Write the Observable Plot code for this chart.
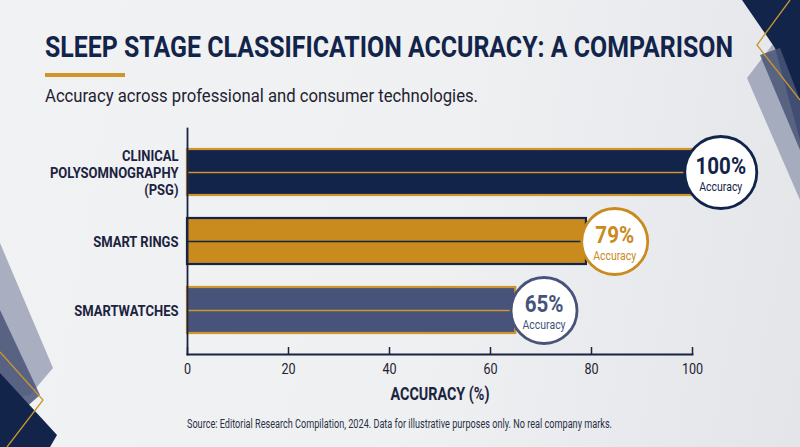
<!DOCTYPE html>
<html>
<head>
<meta charset="utf-8">
<script src="https://cdn.jsdelivr.net/npm/d3@7"></script>
<script src="https://cdn.jsdelivr.net/npm/@observablehq/plot@0.6"></script>
<style>
  html, body { margin: 0; padding: 0; }
  body {
    width: 800px; height: 447px; overflow: hidden; position: relative;
    background: linear-gradient(100deg, #f1f2f4 0%, #eef0f2 55%, #e3e5e9 100%);
    font-family: Roboto, "Noto Sans", sans-serif;
  }
  #deco { position: absolute; left: 0; top: 0; }
  .sq { transform-origin: 0 50%; display: inline-block; }
  #title {
    position: absolute; left: 45px; top: 30px; margin: 0;
    font-size: 29.5px; line-height: 34px; font-weight: 700; color: #13244a; white-space: nowrap;
  }
  #bar { position: absolute; left: 45px; top: 73px; width: 80px; height: 3.5px; background: #d0962a; }
  #subtitle {
    position: absolute; left: 45px; top: 84px; margin: 0;
    font-size: 19px; line-height: 24px; color: #1e2230; white-space: nowrap;
  }
  #chart { position: absolute; left: 0; top: 118px; }
  #source {
    position: absolute; left: 187px; top: 416px; margin: 0;
    font-size: 12px; line-height: 16px; color: #2b3045; white-space: nowrap;
  }
</style>
</head>
<body>
<svg id="deco" width="800" height="447" viewBox="0 0 800 447">
  <polygon points="747,78 776,40 800,110 800,200" fill="#8a93ab" opacity="0.7"/>
  <polygon points="742,0 800,0 800,140 775,48" fill="#13244a"/>
  <polygon points="760,55 780,48 800,100 800,150" fill="#4a5678" opacity="0.85"/>
  <polyline points="790,0 757,45 800,100" fill="none" stroke="#c9962e" stroke-width="1.3"/>
  <polygon points="0,243 53,368 30,395 0,400" fill="#8a93ab" opacity="0.7"/>
  <polygon points="0,310 40,395 0,430" fill="#4a5678" opacity="0.85"/>
  <polygon points="0,373 57,435 50,447 0,447" fill="#13244a"/>
  <polyline points="0,352 43,400 7,447" fill="none" stroke="#c9962e" stroke-width="1.3"/>
</svg>
<h1 id="title"><span class="sq" data-w="688">SLEEP STAGE CLASSIFICATION ACCURACY: A COMPARISON</span></h1>
<div id="bar"></div>
<p id="subtitle"><span class="sq" data-w="433">Accuracy across professional and consumer technologies.</span></p>
<div id="chart"></div>
<p id="source"><span class="sq" data-w="425">Source: Editorial Research Compilation, 2024. Data for illustrative purposes only. No real company marks.</span></p>
<script>
const categories = ["Clinical Polysomnography (PSG)", "Smart Rings", "Smartwatches"];
const tickLabels = ["CLINICAL\nPOLYSOMNOGRAPHY\n(PSG)", "SMART RINGS", "SMARTWATCHES"];
const accuracy = [100, 79, 65];
const barFills = ["#13244a", "#c98a1e", "#47537a"];
const barEdges = ["#d0962a", "#13244a", "#d0962a"];
const xTicks = [0, 20, 40, 60, 80, 100];

const data = categories.map((c, i) => ({
  category: c, label: tickLabels[i], value: accuracy[i], fill: barFills[i], edge: barEdges[i]
}));
const labelOf = new Map(data.map(d => [d.category, d.label]));
const ink = "#1b2340";

const chart = Plot.plot({
  width: 800, height: 291,
  marginTop: 10, marginBottom: 55, marginLeft: 187, marginRight: 108,
  x: { domain: [0, 100] },
  y: { domain: categories, paddingInner: 0.333, paddingOuter: 0.304 },
  r: { type: "identity" },
  style: { background: "transparent", fontFamily: "Roboto, sans-serif", overflow: "visible" },
  marks: [
    Plot.barX(data, { y: "category", x: "value", fill: d => d.fill, stroke: d => d.edge, strokeWidth: 2.2 }),
    Plot.ruleY(data, { y: "category", x1: 0, x2: "value", stroke: d => d.edge, strokeWidth: 1.6 }),
    Plot.ruleX(xTicks, { x: d => d, insetTop: 219, stroke: ink, strokeWidth: 1.5 }),
    Plot.frame({ anchor: "left", stroke: ink, strokeWidth: 1.8 }),
    Plot.frame({ anchor: "bottom", stroke: ink, strokeWidth: 2 }),
    Plot.axisX({ ticks: xTicks, tickSize: 0, tickPadding: 9, fontSize: 15, fill: "#1e2230",
      label: "ACCURACY (%)", labelAnchor: "center", labelArrow: "none", labelOffset: 45 }),
    Plot.axisY({ tickSize: 0, tickPadding: 9, tickFormat: d => labelOf.get(d), fontSize: 15.5,
      fontWeight: 700, fill: ink, lineHeight: 1.12, label: null }),
    Plot.dot(data, { x: d => d.value + 5.6, y: "category", r: d => (d.value >= 100 ? 36 : 33),
      fill: "white", stroke: d => d.fill, strokeWidth: 2.8 }),
    Plot.text(data, { x: d => d.value + 5.6, y: "category", text: d => d.value + "%",
      fill: d => d.fill, fontSize: 24.5, fontWeight: 700, dy: -6.5 }),
    Plot.text(data, { x: d => d.value + 5.6, y: "category", text: () => "Accuracy",
      fill: d => d.fill, fontSize: 12.5, dy: 14.5 })
  ]
});
document.getElementById("chart").appendChild(chart);

// condensed look: squeeze SVG text horizontally around its anchor
chart.querySelectorAll("text").forEach(t => {
  if (t.textContent.startsWith("ACCURACY")) {
    t.setAttribute("font-weight", "700"); t.setAttribute("font-size", "17.5"); t.setAttribute("fill", ink);
  }
  const tr = t.getAttribute("transform") || "";
  if (t.closest("g") && t.closest("g").getAttribute("aria-label") === "x-axis label") {
    const x = +t.getAttribute("x") || 0, y = +t.getAttribute("y") || 0;
    t.setAttribute("transform", `${tr} translate(${x},${y}) scale(0.82,1) translate(${-x},${-y})`);
  } else {
    t.setAttribute("transform", `${tr} scale(0.84,1)`);
  }
});
// condensed look for HTML text: fit to measured widths
document.querySelectorAll(".sq").forEach(s => {
  const w = s.getBoundingClientRect().width;
  s.style.transform = `scaleX(${(+s.dataset.w) / w})`;
});
</script>
</body>
</html>
